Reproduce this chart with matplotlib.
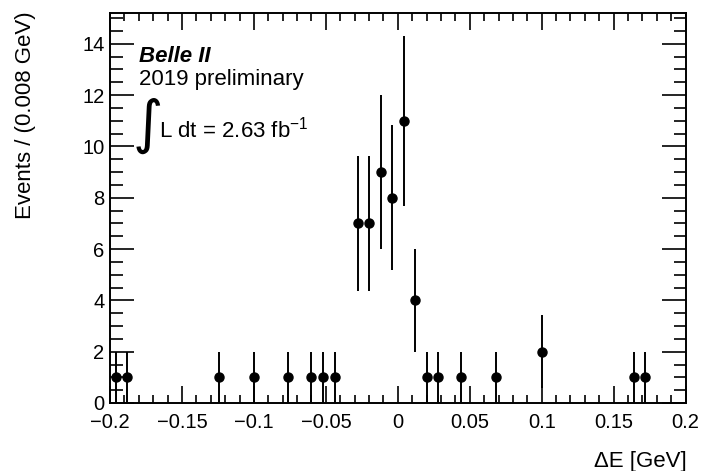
#!/usr/bin/env python3
"""Belle II Delta-E distribution, 2019 preliminary (ROOT-style data points)."""

import matplotlib

matplotlib.use("Agg")
import matplotlib.pyplot as plt  # noqa: E402
import numpy as np  # noqa: E402
from matplotlib.ticker import MultipleLocator  # noqa: E402

plt.rcParams["font.family"] = ["Liberation Sans", "DejaVu Sans"]

# bin centres (GeV, 0.008 GeV bins) and event counts of the non-empty bins
delta_e = [-0.196, -0.188, -0.124, -0.100, -0.076, -0.060, -0.052, -0.044,
           -0.028, -0.020, -0.012, -0.004, 0.004, 0.012, 0.020, 0.028,
           0.044, 0.068, 0.100, 0.164, 0.172]
events = [1, 1, 1, 1, 1, 1, 1, 1,
          7, 7, 9, 8, 11, 4, 1, 1,
          1, 1, 2, 1, 1]

x = np.array(delta_e)
y = np.array(events, dtype=float)
err = np.sqrt(y)

fig = plt.figure(figsize=(7.01, 4.71), dpi=100)
ax = fig.add_axes([0.157, 0.1444, 0.821, 0.828])

ax.errorbar(x, y, yerr=err, fmt="o", color="black", markersize=6.5,
            elinewidth=1.4, capsize=0)

ax.set_xlim(-0.2, 0.2)
ax.set_ylim(0, 15.2)

ax.xaxis.set_major_locator(MultipleLocator(0.05))
ax.xaxis.set_minor_locator(MultipleLocator(0.01))
ax.yaxis.set_major_locator(MultipleLocator(2))
ax.yaxis.set_minor_locator(MultipleLocator(0.5))

ax.tick_params(which="both", direction="in", top=True, right=True, width=1.2)
ax.tick_params(axis="x", which="major", length=12, labelsize=14.5, pad=7)
ax.tick_params(axis="x", which="minor", length=6)
ax.tick_params(axis="y", which="major", length=17, labelsize=14.5, pad=4)
ax.tick_params(axis="y", which="minor", length=9)
for s in ax.spines.values():
    s.set_linewidth(1.4)

xt = [-0.2, -0.15, -0.1, -0.05, 0, 0.05, 0.1, 0.15, 0.2]
xt_labels = ["\u22120.2", "\u22120.15", "\u22120.1", "\u22120.05", "0",
             "0.05", "0.1", "0.15", "0.2"]
ax.set_xticks(xt)
ax.set_xticklabels(xt_labels)

fig.text(0.036, 0.975, "Events / (0.008 GeV)", rotation=90, ha="center",
         va="top", fontsize=16)
fig.text(0.979, 0.0212, "\u0394E [GeV]", ha="right", va="center", fontsize=16)

ax.text(0.050, 0.874, "Belle II", transform=ax.transAxes, fontsize=16,
        fontweight="bold", fontstyle="italic", va="baseline")
ax.text(0.050, 0.815, "2019 preliminary", transform=ax.transAxes,
        fontsize=16, va="baseline")
ax.text(0.040, 0.669, "\u222b", transform=ax.transAxes, fontsize=42,
        va="baseline", family=["DejaVu Sans"])
ax.text(0.085, 0.682, r"L dt = 2.63 fb$^{\mathregular{-1}}$",
        transform=ax.transAxes, fontsize=16, va="baseline")

fig.savefig("out.png", dpi=100)
